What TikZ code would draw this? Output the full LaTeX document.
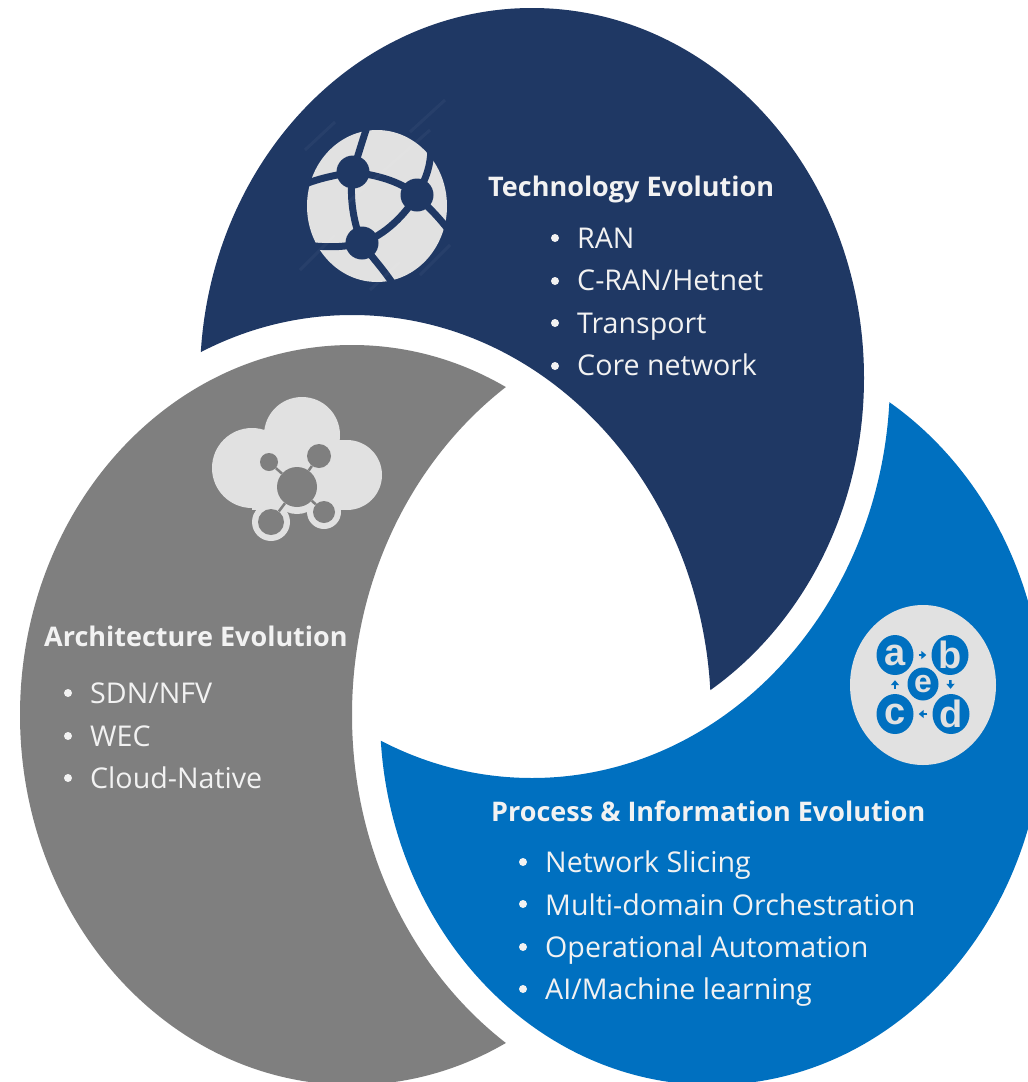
\documentclass[tikz,border=0pt]{standalone}
\usepackage{fontspec}
\setmainfont{Open Sans}
\newfontfamily\iconfont{Liberation Sans}
\usetikzlibrary{shapes.geometric,arrows.meta}
\definecolor{navyc}{HTML}{1F3864}
\definecolor{grayc}{HTML}{7F7F7F}
\definecolor{bluec}{HTML}{0070C0}
\definecolor{iconc}{HTML}{E1E1E1}
\definecolor{txtc}{HTML}{F2F2F2}
\tikzset{
  heading/.style={anchor=base west,inner sep=0pt,text=txtc,font=\fontsize{27}{30}\selectfont\bfseries},
  item/.style={anchor=base west,inner sep=0pt,text=txtc,font=\fontsize{28.6}{30}\selectfont},
  dot/.style={circle,fill=txtc,inner sep=0pt,minimum size=8pt},
  globeline/.style={draw=navyc,line width=7pt},
  globehub/.style={circle,fill=navyc,inner sep=0pt,minimum size=33pt},
  stripe/.style={draw=white,opacity=0.04,line width=3pt},
  letter/.style={ellipse,fill=bluec,inner sep=0pt,minimum width=37pt,minimum height=40pt,text=iconc,font=\iconfont\fontsize{38}{38}\selectfont\bfseries},
  letterE/.style={ellipse,fill=bluec,inner sep=0pt,minimum width=31pt,minimum height=33pt,text=iconc,font=\iconfont\fontsize{32}{32}\selectfont\bfseries},
  tinyarrow/.style={draw=bluec,line width=2.5pt,-{Triangle[length=5pt,width=8pt]},shorten >=5pt,shorten <=5pt},
  cloudhole/.style={circle,fill=grayc,inner sep=0pt},
  cloudlink/.style={draw=grayc,line width=2.5pt},
  crescent/.style={even odd rule}
}
\begin{document}
\begin{tikzpicture}[x=1pt,y=-1pt]
\useasboundingbox (0,0) rectangle (1028,1082);
\clip (0,0) rectangle (1028,1082);
\fill[white] (0,0) rectangle (1028,1082);
% three crescents
\begin{scope}[crescent]
  \clip (-20,-20) rectangle (1060,1110) (352,715) ellipse [x radius=359pt,y radius=400pt];
  \fill[navyc] (532,378) ellipse [x radius=332pt,y radius=370pt];
\end{scope}
\begin{scope}[crescent]
  \clip (-20,-20) rectangle (1060,1110) (712,715) ellipse [x radius=360pt,y radius=400pt];
  \fill[grayc] (352,715) ellipse [x radius=332pt,y radius=370pt];
\end{scope}
\begin{scope}[crescent]
  \clip (-20,-20) rectangle (1060,1110) (532,378) ellipse [x radius=358pt,y radius=400pt];
  \fill[bluec] (712,715) ellipse [x radius=332pt,y radius=370pt];
\end{scope}
% globe icon
\fill[iconc] (377,206) ellipse [x radius=70pt,y radius=76pt];
\coordinate (g1) at (353,172);
\coordinate (g2) at (417,195);
\coordinate (g3) at (362,243);
\begin{scope}
  \clip (377,206) ellipse [x radius=71pt,y radius=77pt];
  \draw[globeline] (g1) .. controls (358,155) and (362,142) .. (368,124);
  \draw[globeline] (g1) .. controls (338,175) and (322,177) .. (300,186);
  \draw[globeline] (g1) .. controls (349,195) and (353,222) .. (g3);
  \draw[globeline] (g1) .. controls (375,175) and (398,180) .. (g2);
  \draw[globeline] (g2) .. controls (428,175) and (430,165) .. (431,150);
  \draw[globeline] (g2) .. controls (425,205) and (435,212) .. (450,232);
  \draw[globeline] (g2) .. controls (405,215) and (385,235) .. (g3);
  \draw[globeline] (g3) .. controls (345,247) and (330,248) .. (305,245);
  \draw[globeline] (g3) .. controls (372,258) and (385,270) .. (398,292);
\end{scope}
\node[globehub] (gn1) at (g1) {};
\node[globehub] (gn2) at (g2) {};
\node[globehub] (gn3) at (g3) {};
\draw[stripe] (305,150) -- (335,122);
\draw[stripe] (410,132) -- (445,100);
\draw[stripe] (300,270) -- (335,235);
\draw[stripe] (370,290) -- (400,262);
\draw[stripe] (420,275) -- (450,245);
\draw[stripe] (345,205) -- (430,130);
% cloud icon
\fill[iconc] (302,435) circle (38pt) (252,468) circle (40pt) (347,475) circle (35pt);
\fill[iconc] (252,440) rectangle (347,510);
\fill[iconc] (297,487) circle (27pt);
\fill[iconc] (271,522) circle (19pt) (324,512) circle (17pt);
\node[cloudhole,minimum size=40pt] (hub) at (297,487) {};
\node[cloudhole,minimum size=18pt] (n1) at (269,462) {};
\node[cloudhole,minimum size=24pt] (n2) at (319,456) {};
\node[cloudhole,minimum size=26pt] (n3) at (271,522) {};
\node[cloudhole,minimum size=22pt] (n4) at (324,512) {};
\draw[cloudlink] (hub) -- (n1);
\draw[cloudlink] (hub) -- (n2);
\draw[cloudlink] (hub) -- (n3);
\draw[cloudlink] (hub) -- (n4);
% process icon
\fill[iconc] (923,685) ellipse [x radius=73pt,y radius=80pt];
\node[letter] (a) at (895,655) {a};
\node[letter] (b) at (950,655) {b};
\node[letter] (c) at (895,714) {c};
\node[letter] (d) at (951,714) {d};
\node[letterE] (e) at (923,684) {e};
\draw[tinyarrow] (a) -- (b);
\draw[tinyarrow] (b) -- (d);
\draw[tinyarrow] (d) -- (c);
\draw[tinyarrow] (c) -- (a);
% texts
\node[heading] (h1) at (488,196) {Technology Evolution};
\node[item] (t1) at (577,248) {RAN};
\node[item] (t2) at (577,290) {C-RAN/Hetnet};
\node[item] (t3) at (577,333) {Transport};
\node[item] (t4) at (577,375) {Core network};
\node[dot] (d1) at (555,238) {};
\node[dot] (d2) at (555,281) {};
\node[dot] (d3) at (555,323) {};
\node[dot] (d4) at (555,366) {};
\node[heading] (h2) at (44,646) {Architecture Evolution};
\node[item] (a1) at (90,703) {SDN/NFV};
\node[item] (a2) at (90,746) {WEC};
\node[item] (a3) at (90,788) {Cloud-Native};
\node[dot] (d5) at (68,693) {};
\node[dot] (d6) at (68,736) {};
\node[dot] (d7) at (68,778) {};
\node[heading] (h3) at (491,821) {Process \& Information Evolution};
\node[item] (p1) at (545,872) {Network Slicing};
\node[item] (p2) at (545,915) {Multi-domain Orchestration};
\node[item] (p3) at (545,957) {Operational Automation};
\node[item] (p4) at (545,999) {AI/Machine learning};
\node[dot] (d8) at (523,862) {};
\node[dot] (d9) at (523,904) {};
\node[dot] (d10) at (523,947) {};
\node[dot] (d11) at (523,989) {};
\end{tikzpicture}
\end{document}
